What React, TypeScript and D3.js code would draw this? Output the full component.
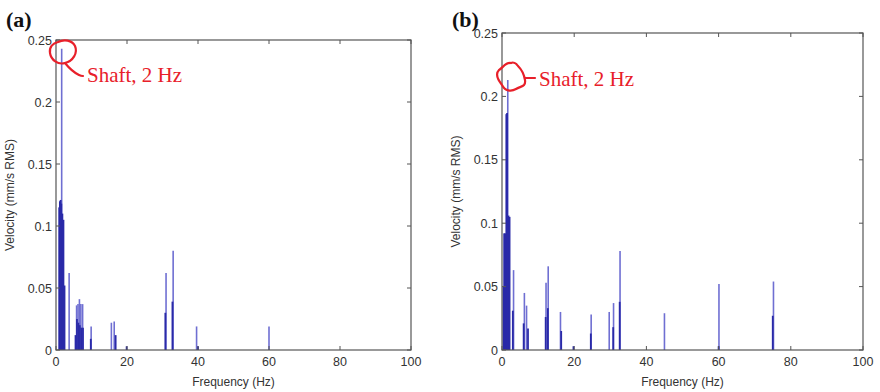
import { useEffect, useRef } from 'react'
import * as d3 from 'd3'

type Line = { f: number; v: number }

// panel (a) spectrum lines: light = upper envelope, dark = overlapping lower lines
const linesALight: Line[] = [
  { f: 1.6, v: 0.243 }, { f: 3.7, v: 0.062 }, { f: 5.8, v: 0.036 }, { f: 6.2, v: 0.037 },
  { f: 6.6, v: 0.041 }, { f: 7.0, v: 0.037 }, { f: 7.5, v: 0.037 }, { f: 9.9, v: 0.019 },
  { f: 15.6, v: 0.022 }, { f: 16.4, v: 0.023 }, { f: 31.0, v: 0.062 }, { f: 33.0, v: 0.080 },
  { f: 39.6, v: 0.019 }, { f: 60.0, v: 0.019 }
]
const linesADark: Line[] = [
  { f: 0.9, v: 0.115 }, { f: 1.1, v: 0.120 }, { f: 1.3, v: 0.121 }, { f: 1.5, v: 0.118 },
  { f: 1.8, v: 0.110 }, { f: 2.1, v: 0.105 }, { f: 2.4, v: 0.052 }, { f: 5.5, v: 0.012 },
  { f: 5.9, v: 0.025 }, { f: 6.3, v: 0.022 }, { f: 6.7, v: 0.020 }, { f: 7.1, v: 0.018 },
  { f: 7.6, v: 0.018 }, { f: 9.8, v: 0.009 }, { f: 16.8, v: 0.012 }, { f: 19.9, v: 0.003 },
  { f: 30.8, v: 0.030 }, { f: 32.8, v: 0.039 }, { f: 40.0, v: 0.003 }
]

// panel (b)
const linesBLight: Line[] = [
  { f: 1.6, v: 0.213 }, { f: 3.2, v: 0.063 }, { f: 6.2, v: 0.045 }, { f: 6.8, v: 0.035 },
  { f: 12.2, v: 0.053 }, { f: 12.8, v: 0.066 }, { f: 16.2, v: 0.030 }, { f: 24.7, v: 0.028 },
  { f: 29.7, v: 0.030 }, { f: 30.9, v: 0.037 }, { f: 32.7, v: 0.078 }, { f: 45.0, v: 0.029 },
  { f: 60.1, v: 0.052 }, { f: 75.2, v: 0.054 }
]
const linesBDark: Line[] = [
  { f: 0.4, v: 0.050 }, { f: 0.6, v: 0.092 }, { f: 0.9, v: 0.092 }, { f: 1.2, v: 0.186 },
  { f: 1.4, v: 0.187 }, { f: 1.8, v: 0.106 }, { f: 2.1, v: 0.105 }, { f: 3.0, v: 0.031 },
  { f: 6.0, v: 0.021 }, { f: 7.2, v: 0.017 }, { f: 12.1, v: 0.026 }, { f: 12.7, v: 0.033 },
  { f: 16.4, v: 0.015 }, { f: 19.8, v: 0.003 }, { f: 24.6, v: 0.013 }, { f: 30.8, v: 0.018 },
  { f: 32.6, v: 0.038 }, { f: 60.0, v: 0.003 }, { f: 75.0, v: 0.027 }
]

const xTicks = [0, 20, 40, 60, 80, 100]
const yTicks = [0, 0.05, 0.1, 0.15, 0.2, 0.25]
const yTickLabels = ['0', '0.05', '0.1', '0.15', '0.2', '0.25']

interface PanelSpec {
  label: string
  left: number
  right: number
  top: number
  bottom: number
  light: Line[]
  dark: Line[]
  circle: string
  tail: string
  textX: number
  textY: number
}

const panels: PanelSpec[] = [
  {
    label: '(a)', left: 56, right: 411, top: 40, bottom: 350,
    light: linesALight, dark: linesADark,
    // hand-drawn loop round the peak, tail running down to the text
    circle: 'M58,42 C64,39 72,40 75,46 C78,53 73,61 65,63 C58,65 51,60 50,53 C49,47 53,43 58,42',
    tail: 'M65,63 C69,68 73,72 79,75 C81,76 82,76 83,76',
    textX: 87, textY: 82
  },
  {
    label: '(b)', left: 502, right: 863, top: 33, bottom: 350,
    light: linesBLight, dark: linesBDark,
    circle: 'M511,63 C505,62 503,68 499,70 C495,74 498,80 502,85 C505,91 511,92 516,89 C521,86 526,87 525,80 C524,74 522,70 518,66 C516,63 513,62 511,63',
    tail: 'M525,78 L535,78',
    textX: 539, textY: 86
  }
]

export default function App() {
  const svgRef = useRef<SVGSVGElement>(null)

  useEffect(() => {
    if (!svgRef.current) return
    const svg = d3.select(svgRef.current)
    svg.selectAll('*').remove()

    svg.append('rect').attr('width', 880).attr('height', 392).attr('fill', '#fff')

    panels.forEach(p => {
      const x = d3.scaleLinear().domain([0, 100]).range([p.left, p.right])
      const y = d3.scaleLinear().domain([0, 0.25]).range([p.bottom, p.top])
      const g = svg.append('g')

      // spectrum lines
      g.selectAll('.light')
        .data(p.light)
        .enter().append('line')
        .attr('x1', d => x(d.f)).attr('x2', d => x(d.f))
        .attr('y1', y(0)).attr('y2', d => y(d.v))
        .attr('stroke', '#6f6fd2')
        .attr('stroke-width', 1.6)

      g.selectAll('.dark')
        .data(p.dark)
        .enter().append('line')
        .attr('x1', d => x(d.f)).attr('x2', d => x(d.f))
        .attr('y1', y(0)).attr('y2', d => y(d.v))
        .attr('stroke', '#2a2aa8')
        .attr('stroke-width', 1.8)

      // box
      g.append('rect')
        .attr('x', p.left).attr('y', p.top)
        .attr('width', p.right - p.left).attr('height', p.bottom - p.top)
        .attr('fill', 'none').attr('stroke', '#555').attr('stroke-width', 1.2)

      // ticks (inside, all four sides)
      xTicks.forEach(t => {
        g.append('line').attr('x1', x(t)).attr('x2', x(t)).attr('y1', p.bottom).attr('y2', p.bottom - 4)
          .attr('stroke', '#555')
        g.append('line').attr('x1', x(t)).attr('x2', x(t)).attr('y1', p.top).attr('y2', p.top + 4)
          .attr('stroke', '#555')
        g.append('text').attr('x', x(t)).attr('y', p.bottom + 16)
          .attr('text-anchor', 'middle')
          .style('font-family', '"Liberation Sans", Arial, sans-serif')
          .style('font-size', '12.5px').style('fill', '#333')
          .text(String(t))
      })
      yTicks.forEach((t, i) => {
        g.append('line').attr('x1', p.left).attr('x2', p.left + 4).attr('y1', y(t)).attr('y2', y(t))
          .attr('stroke', '#555')
        g.append('line').attr('x1', p.right).attr('x2', p.right - 4).attr('y1', y(t)).attr('y2', y(t))
          .attr('stroke', '#555')
        g.append('text').attr('x', p.left - 4).attr('y', y(t) + 4.5)
          .attr('text-anchor', 'end')
          .style('font-family', '"Liberation Sans", Arial, sans-serif')
          .style('font-size', '12.5px').style('fill', '#333')
          .text(yTickLabels[i])
      })

      // axis labels
      g.append('text')
        .attr('x', (p.left + p.right) / 2).attr('y', 386)
        .attr('text-anchor', 'middle')
        .style('font-family', '"Liberation Sans", Arial, sans-serif')
        .style('font-size', '12px').style('fill', '#333')
        .text('Frequency (Hz)')

      const yMid = (p.top + p.bottom) / 2
      g.append('text')
        .attr('transform', `translate(${p.left - 42},${yMid}) rotate(-90)`)
        .attr('text-anchor', 'middle')
        .style('font-family', '"Liberation Sans", Arial, sans-serif')
        .style('font-size', '12px').style('fill', '#333')
        .text('Velocity (mm/s RMS)')

      // panel label
      g.append('text')
        .attr('x', p.left - 50).attr('y', 27)
        .style('font-family', '"Liberation Serif", "Times New Roman", serif')
        .style('font-size', '22px').style('font-weight', 'bold').style('fill', '#111')
        .text(p.label)

      // annotation
      g.append('path').attr('d', p.circle)
        .attr('fill', 'none').attr('stroke', '#e8202a').attr('stroke-width', 2.2)
        .attr('stroke-linecap', 'round')
      if (p.tail) {
        g.append('path').attr('d', p.tail)
          .attr('fill', 'none').attr('stroke', '#e8202a').attr('stroke-width', 2.2)
          .attr('stroke-linecap', 'round')
      }
      g.append('text')
        .attr('x', p.textX).attr('y', p.textY)
        .style('font-family', '"Liberation Serif", "Times New Roman", serif')
        .style('font-size', '21px').style('fill', '#e8202a')
        .text('Shaft, 2 Hz')
    })
  }, [])

  return (
    <svg ref={svgRef} width={880} height={392}
      style={{ position: 'absolute', left: 0, top: 0 }} />
  )
}
